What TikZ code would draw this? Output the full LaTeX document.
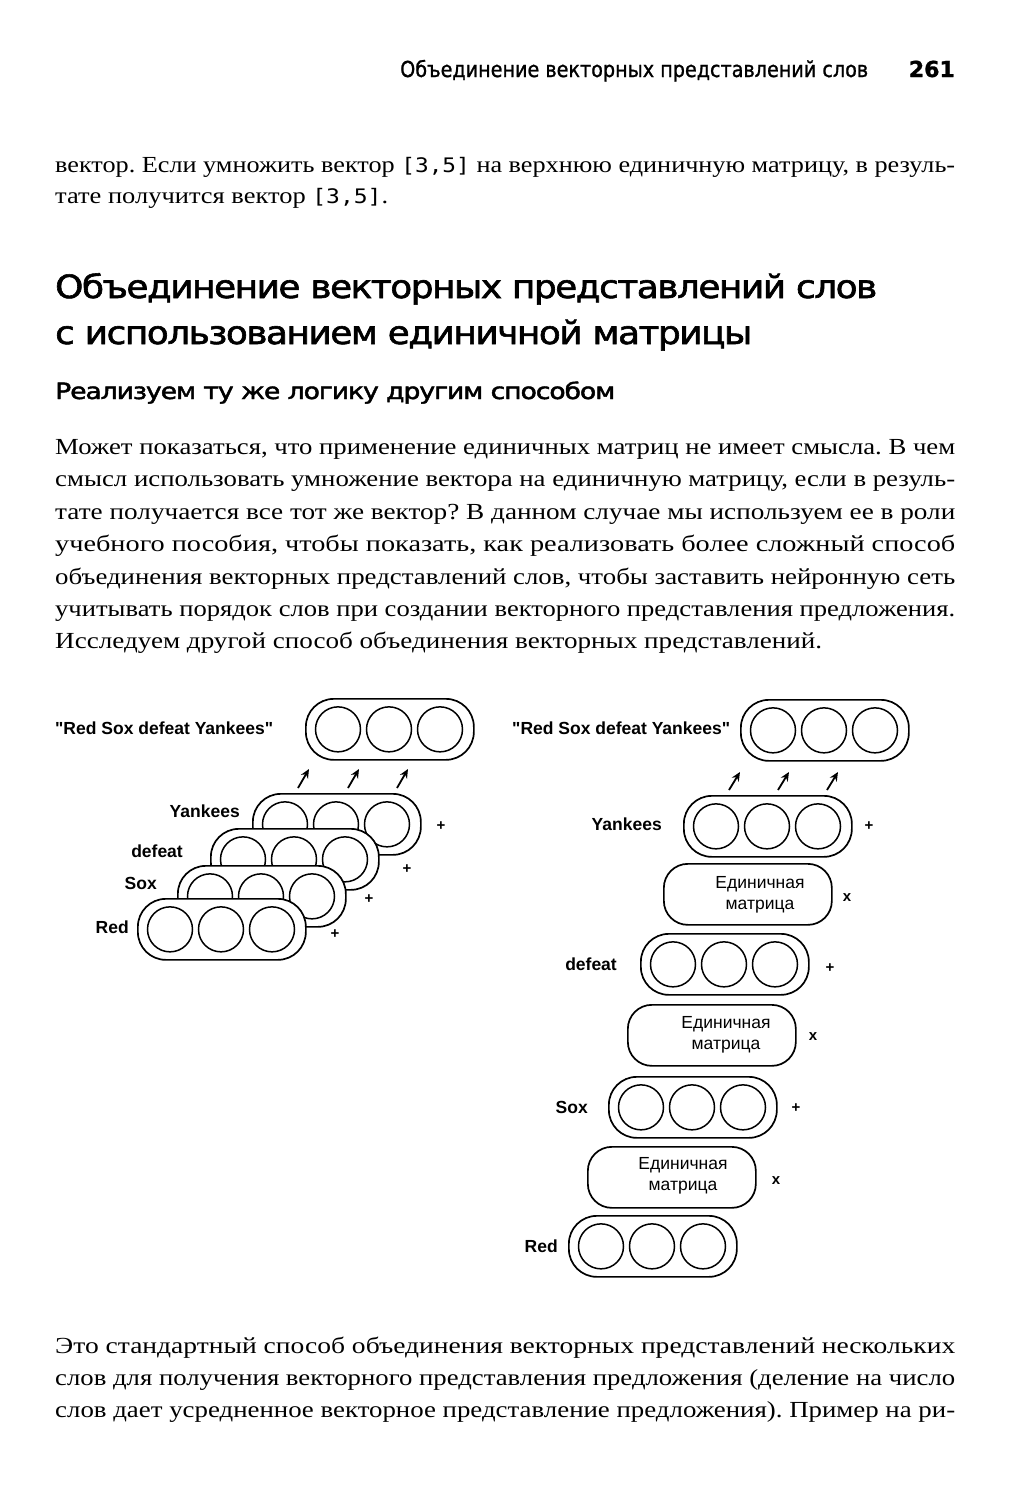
\documentclass[tikz,border=0pt]{standalone}
\usepackage{fontspec}
\usepackage{graphicx}
\setmainfont{Liberation Serif}
\newfontfamily\hfont[FakeBold=1.2]{DejaVu Sans}
\newfontfamily\Hfont[FakeBold=1.8, LetterSpace=-4]{DejaVu Sans}
\newfontfamily\afont{Liberation Sans}
\newfontfamily\mfont{DejaVu Sans Mono}
\usetikzlibrary{arrows.meta}
\newcommand{\mono}[1]{{\mfont\fontsize{20}{24}\selectfont #1}}
\newcommand{\vecbox}[3]{%
  \node[vbox, anchor=north west] (#1) at (#2,#3) {};
  \node[cell] (#1-1) at ([xshift=33pt]#1.west) {};
  \node[cell] (#1-2) at ([xshift=84pt]#1.west) {};
  \node[cell] (#1-3) at ([xshift=135pt]#1.west) {};
}
\newcommand{\jline}[4]{\node[txt] (#1) at (55,#2) {\resizebox{#3pt}{\height}{\frenchspacing #4}};}
\begin{document}
\begin{tikzpicture}[x=1pt,y=-1pt,
  txt/.style={anchor=base west, inner sep=0pt, font=\fontsize{23}{28}\selectfont},
  vbox/.style={draw, fill=white, line width=1.7pt, rounded corners=28pt, minimum width=168pt, minimum height=61pt, inner sep=0pt},
  mbox/.style={draw, fill=white, line width=1.7pt, rounded corners=24pt, minimum width=168pt, minimum height=61pt, inner sep=0pt, anchor=north west},
  cell/.style={draw, circle, line width=1.5pt, minimum size=45pt, inner sep=0pt},
  lab/.style={anchor=base east, inner sep=0pt, font=\afont\bfseries\fontsize{17.5}{21}\selectfont},
  op/.style={inner sep=0pt, font=\afont\bfseries\fontsize{15}{18}\selectfont},
  mtext/.style={inner sep=0pt, align=center, font=\afont\fontsize{17.5}{21}\selectfont},
  arr/.style={line width=1.8pt, -{Stealth[length=9pt,width=8pt]}}]
\useasboundingbox (0,0) rectangle (1010,1500);
\fill[white] (0,0) rectangle (1010,1500);

% running header
\node[anchor=base west, inner sep=0pt] (rh) at (400,77) {\resizebox{468pt}{\height}{\hfont\fontsize{22}{26}\selectfont Объединение векторных представлений слов}};
\node[anchor=base east, inner sep=0pt] (pg) at (955,77) {\hfont\bfseries\fontsize{22}{26}\selectfont 261};

% first text
\jline{t1}{172}{900}{вектор. Если умножить вектор \mono{[3,5]} на верхнюю единичную матрицу, в резуль-}
\jline{t2}{203}{333}{тате получится вектор \mono{[3,5]}.}

% headings
\node[anchor=base west, inner sep=0pt] (h1) at (55,298) {\resizebox{822pt}{\height}{\Hfont\fontsize{32}{36}\selectfont Объединение векторных представлений слов}};
\node[anchor=base west, inner sep=0pt] (h2) at (55,344) {\resizebox{697pt}{\height}{\Hfont\fontsize{32}{36}\selectfont с использованием единичной матрицы}};
\node[anchor=base west, inner sep=0pt] (h3) at (55,399) {\resizebox{560pt}{\height}{\Hfont\fontsize{22.5}{26}\selectfont Реализуем ту же логику другим способом}};

% paragraph
\jline{p1}{454}{900}{Может показаться, что применение единичных матриц не имеет смысла. В чем}
\jline{p2}{486}{900}{смысл использовать умножение вектора на единичную матрицу, если в резуль-}
\jline{p3}{519}{900}{тате получается все тот же вектор? В данном случае мы используем ее в роли}
\jline{p4}{551}{900}{учебного пособия, чтобы показать, как реализовать более сложный способ}
\jline{p5}{584}{900}{объединения векторных представлений слов, чтобы заставить нейронную сеть}
\jline{p6}{616}{900}{учитывать порядок слов при создании векторного представления предложения.}
\jline{p7}{648}{767}{Исследуем другой способ объединения векторных представлений.}

% bottom text
\jline{b1}{1353}{900}{Это стандартный способ объединения векторных представлений нескольких}
\jline{b2}{1385}{900}{слов для получения векторного представления предложения (деление на число}
\jline{b3}{1417}{900}{слов дает усредненное векторное представление предложения). Пример на ри-}

% ---------- left diagram ----------
\node[lab, anchor=base west] (lS) at (55,734) {"Red Sox defeat Yankees"};
\vecbox{lT}{305}{698}
\vecbox{lY}{252}{793}
\vecbox{lD}{210}{828}
\vecbox{lX}{177}{865}
\vecbox{lR}{137}{898}
\node[lab] (lYl) at (240,817) {Yankees};
\node[lab] (lDl) at (183,857) {defeat};
\node[lab] (lXl) at (157,889) {Sox};
\node[lab] (lRl) at (129,933) {Red};
\node[op] (lp1) at (441,826) {+};
\node[op] (lp2) at (407,869) {+};
\node[op] (lp3) at (369,899) {+};
\node[op] (lp4) at (335,934) {+};
\coordinate (la1) at (298,788); \coordinate (lb1) at (309,769);
\coordinate (la2) at (348,788); \coordinate (lb2) at (359,769);
\coordinate (la3) at (397,788); \coordinate (lb3) at (408,769);
\draw[arr] (la1) -- (lb1);
\draw[arr] (la2) -- (lb2);
\draw[arr] (la3) -- (lb3);

% ---------- right diagram ----------
\node[lab, anchor=base west] (rS) at (512,734) {"Red Sox defeat Yankees"};
\vecbox{rT}{740}{699}
\vecbox{rY}{683}{795}
\node[mbox] (rM1) at (663,863) {};
\vecbox{rD}{640}{933}
\node[mbox] (rM2) at (627,1004) {};
\vecbox{rX}{608}{1076}
\node[mbox] (rM3) at (587,1146) {};
\vecbox{rR}{568}{1215}
\node[mtext] (rM1t) at (760,895) {Единичная\\матрица};
\node[mtext] (rM2t) at (726,1035) {Единичная\\матрица};
\node[mtext] (rM3t) at (683,1176) {Единичная\\матрица};
\node[lab] (rYl) at (662,830) {Yankees};
\node[lab] (rDl) at (617,970) {defeat};
\node[lab] (rXl) at (588,1113) {Sox};
\node[lab] (rRl) at (558,1252) {Red};
\node[op] (rp1) at (869,826) {+};
\node[op] (rp2) at (830,968) {+};
\node[op] (rp3) at (796,1108) {+};
\node[op] (rx1) at (847,898) {x};
\node[op] (rx2) at (813,1037) {x};
\node[op] (rx3) at (776,1181) {x};
\coordinate (ra1) at (729,790); \coordinate (rb1) at (740,772);
\coordinate (ra2) at (778,790); \coordinate (rb2) at (789,772);
\coordinate (ra3) at (827,790); \coordinate (rb3) at (838,772);
\draw[arr] (ra1) -- (rb1);
\draw[arr] (ra2) -- (rb2);
\draw[arr] (ra3) -- (rb3);
\end{tikzpicture}
\end{document}
